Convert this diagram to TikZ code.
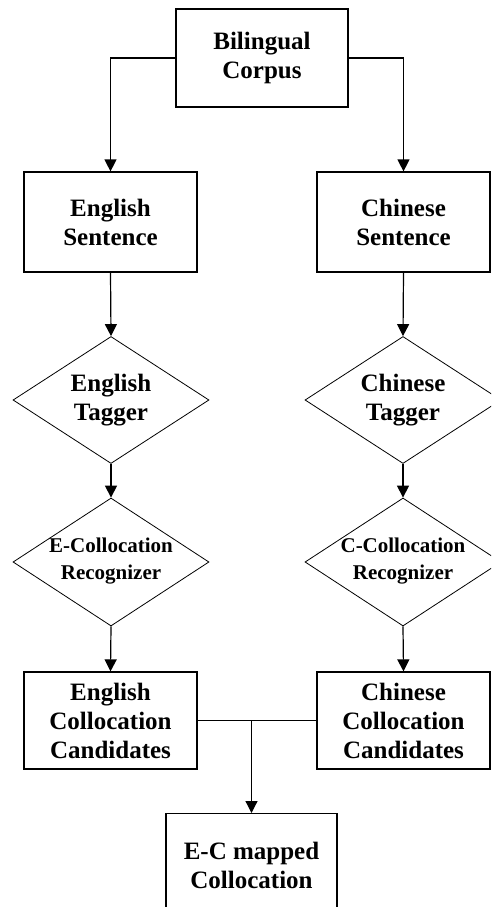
\documentclass[tikz,border=0pt]{standalone}
\usepackage{fontspec}
\setmainfont{Liberation Serif}
\usetikzlibrary{shapes.geometric,arrows.meta}
\tikzset{
  x=1pt, y=-1pt,
  box/.style={draw, line width=1.2pt, rectangle, inner sep=0pt, minimum width=173pt, minimum height=100pt,
    align=center, font=\fontsize{25}{29}\selectfont\bfseries},
  dia/.style={draw, line width=0.8pt, diamond, inner sep=0pt, minimum width=196pt, minimum height=127pt},
  dtext/.style={align=center, inner sep=0pt, font=\fontsize{25}{29}\selectfont\bfseries},
  rtext/.style={align=center, inner sep=0pt, font=\fontsize{21}{27}\selectfont\bfseries},
  conn/.style={line width=1.2pt},
  arr/.style={line width=1.2pt, -{Triangle[width=12pt,length=12pt]}}
}
\begin{document}
\begin{tikzpicture}
\useasboundingbox (0,0) rectangle (491,907);
\clip (0,0) rectangle (491,907);
\fill[white] (0,0) rectangle (491,907);
% boxes
\node[box, minimum width=172pt, minimum height=98pt] (bc) at (262,58) {Bilingual\\Corpus};
\node[box] (es) at (110.5,222) {English\\Sentence};
\node[box] (cs) at (403.5,222) {Chinese\\Sentence};
% taggers
\node[dia] (et) at (111,400) {};
\node[dtext] (ett) at (111,400) {English\\Tagger};
\node[dia] (ct) at (403,400) {};
\node[dtext] (ctt) at (403,400) {Chinese\\Tagger};
% recognizers
\node[dia, minimum height=128pt] (er) at (111,562) {};
\node[rtext] (ert) at (111,561) {E-Collocation\\Recognizer};
\node[dia, minimum height=128pt] (cr) at (403,562) {};
\node[rtext] (crt) at (403,561) {C-Collocation\\Recognizer};
% candidates
\node[box, minimum height=97pt] (ecc) at (110.5,720.5) {English\\Collocation\\Candidates};
\node[box, minimum height=97pt] (ccc) at (403.5,720.5) {Chinese\\Collocation\\Candidates};
% mapped
\node[box, minimum width=171pt, minimum height=104pt, anchor=north] (ec) at (251.5,813) {E-C mapped\\Collocation};
% connectors
\draw[arr] (bc.west) -| (es.north);
\draw[arr] (bc.east) -| (cs.north);
\draw[arr] (es.south) -- (et.north);
\draw[arr] (cs.south) -- (ct.north);
\draw[arr] (et.south) -- (er.north);
\draw[arr] (ct.south) -- (cr.north);
\draw[arr] (er.south) -- (ecc.north);
\draw[arr] (cr.south) -- (ccc.north);
\draw[conn] (ecc.east) -- (ccc.west);
\coordinate (j) at (ec.north |- ecc.east);
\draw[arr] (j) -- (ec.north);
\end{tikzpicture}
\end{document}
